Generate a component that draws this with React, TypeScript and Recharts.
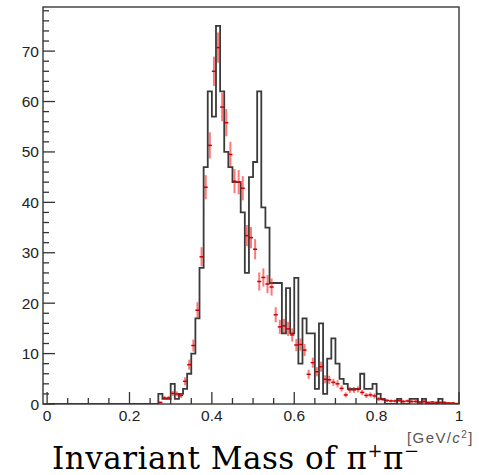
import React from 'react';
import { ComposedChart, Line, Scatter, ErrorBar, XAxis, YAxis, ReferenceArea } from 'recharts';

// histogram bins are 0.01 wide, low edges 0.00 ... 0.99
const BIN_WIDTH = 0.01;
const N_BINS = 100;

// black histogram: counts per bin (bin 0 .. 99)
const dataCounts = [
  0, 0, 0, 0, 0, 0, 0, 0, 0, 0,
  0, 0, 0, 0, 0, 0, 0, 0, 0, 0,
  0, 0, 0, 0, 0, 0, 0, 2, 1, 1,
  4, 1, 2, 3, 6, 10, 17, 27, 47, 62,
  57, 75, 62, 50, 47, 44, 44, 38, 26, 45,
  48, 62, 39, 35, 24, 24, 24, 14, 23, 14,
  25, 8, 17, 14, 14, 3, 16, 2, 9, 13,
  8, 5, 4, 3, 3, 3, 6, 3, 3, 4,
  2, 1, 0, 0, 0, 1, 0, 0, 1, 1,
  0, 1, 0, 0, 0, 1, 0, 0, 0, 0,
];

// red points (scaled MC) start at bin 27
const MC_FIRST_BIN = 27;
const mcValues = [
  0.3, 1.2, 1.2, 2.1, 2.0, 1.7, 4.5, 7.8, 11.6, 18.6,
  29.2, 43.0, 51.3, 66.0, 70.7, 58.9, 55.8, 49.5, 44.2, 44.0,
  42.8, 33.4, 33.0, 30.7, 24.3, 25.1, 23.8, 23.2, 17.7, 15.3,
  15.5, 14.9, 13.7, 11.7, 11.8, 10.7, 5.9, 8.2, 6.4, 7.4,
  4.9, 4.8, 4.3, 4.0, 3.1, 1.8, 2.8, 2.8, 2.9, 2.3,
  1.7, 1.8, 1.6, 1.0, 0.9, 0.7, 0.6, 0.6, 0.7, 0.5,
  0.6, 0.5, 0.5, 0.4, 0.5, 0.3, 0.4, 0.3, 0.3, 0.3,
  0.2, 0.2, 0.1,
];
const mcErrors = [
  0.2, 0.4, 0.4, 0.5, 0.5, 0.5, 0.8, 1.0, 1.2, 1.6,
  1.9, 2.4, 2.6, 2.9, 3.0, 2.8, 2.7, 2.5, 2.4, 2.4,
  2.4, 2.1, 2.1, 2.0, 1.8, 1.8, 1.8, 1.7, 1.5, 1.4,
  1.4, 1.4, 1.3, 1.2, 1.2, 1.2, 0.9, 1.0, 0.9, 1.0,
  0.8, 0.8, 0.7, 0.7, 0.6, 0.5, 0.6, 0.6, 0.6, 0.5,
  0.5, 0.5, 0.5, 0.4, 0.3, 0.3, 0.3, 0.3, 0.3, 0.3,
  0.3, 0.3, 0.3, 0.2, 0.3, 0.2, 0.2, 0.2, 0.2, 0.2,
  0.2, 0.2, 0.1,
];

const xTicks = [0, 0.05, 0.1, 0.15, 0.2, 0.25, 0.3, 0.35, 0.4, 0.45, 0.5, 0.55, 0.6, 0.65, 0.7, 0.75, 0.8, 0.85, 0.9, 0.95, 1];
const xMajorLabels: Record<string, string> = { '0': '0', '0.2': '0.2', '0.4': '0.4', '0.6': '0.6', '0.8': '0.8', '1': '1' };
const yTicks = [
  0, 2, 4, 6, 8, 10, 12, 14, 16, 18, 20, 22, 24, 26, 28, 30, 32, 34, 36, 38,
  40, 42, 44, 46, 48, 50, 52, 54, 56, 58, 60, 62, 64, 66, 68, 70, 72, 74, 76, 78,
];

const X_MIN = -0.01;
const X_MAX = 1;
const Y_MAX = 78.75;

// step outline: one point per bin low edge, plus closing point at the upper edge
const histData = dataCounts.map((c, i) => ({ x: +(i * BIN_WIDTH).toFixed(2), y: c }));
histData.push({ x: +(N_BINS * BIN_WIDTH).toFixed(2), y: 0 });

const mcData = mcValues.map((v, i) => ({
  x: +((MC_FIRST_BIN + i + 0.5) * BIN_WIDTH).toFixed(3),
  y: v,
  ey: mcErrors[i],
  ex: BIN_WIDTH / 2,
}));

const AXIS_COLOR = '#333';
const LABEL_FONT = '"Liberation Sans", Arial, Helvetica, sans-serif';

const YTick = (props: any) => {
  const { x, y, payload } = props;
  const v = payload.value;
  const major = v % 10 === 0;
  return (
    <g>
      <line x1={x} x2={x + (major ? 12 : 6)} y1={y} y2={y} stroke={AXIS_COLOR} strokeWidth={1.3} />
      {major && (
        <text x={x - 4} y={y + 5.5} textAnchor="end" fontSize={15.5} fontFamily={LABEL_FONT} fill="#222">
          {v}
        </text>
      )}
    </g>
  );
};

const XTick = (props: any) => {
  const { x, y, payload } = props;
  const v = payload.value;
  const label = xMajorLabels[String(v)];
  return (
    <g>
      <line x1={x} x2={x} y1={y} y2={y - (label ? 12 : 6)} stroke={AXIS_COLOR} strokeWidth={1.3} />
      {label && (
        <text x={x} y={y + 17} textAnchor="middle" fontSize={15.5} fontFamily={LABEL_FONT} fill="#222">
          {label}
        </text>
      )}
    </g>
  );
};

export default function App() {
  return (
    <div style={{ position: 'absolute', left: 0, top: 0, width: 479, height: 475, background: '#fff', overflow: 'hidden' }}>
      <ComposedChart width={479} height={475} margin={{ top: 7, right: 20, bottom: 41, left: 0 }}>
        <XAxis
          type="number"
          dataKey="x"
          domain={[X_MIN, X_MAX]}
          allowDataOverflow
          ticks={xTicks}
          interval={0}
          height={30}
          tickSize={0}
          tickMargin={0}
          axisLine={false}
          tickLine={false}
          tick={<XTick />}
        />
        <YAxis
          type="number"
          domain={[0, Y_MAX]}
          allowDataOverflow
          ticks={yTicks}
          interval={0}
          width={43}
          tickSize={0}
          tickMargin={0}
          axisLine={false}
          tickLine={false}
          tick={<YTick />}
        />
        <Line
          data={histData}
          dataKey="y"
          type="stepAfter"
          stroke="#3a3a3a"
          strokeWidth={1.8}
          dot={false}
          isAnimationActive={false}
        />
        <Scatter data={mcData} dataKey="y" shape={() => <g />} isAnimationActive={false}>
          <ErrorBar dataKey="ey" direction="y" width={0} stroke="rgba(255,30,30,0.6)" strokeWidth={2} />
          <ErrorBar dataKey="ex" direction="x" width={0} stroke="#c80000" strokeWidth={1.5} />
        </Scatter>
        <ReferenceArea x1={X_MIN} x2={X_MAX} y1={0} y2={Y_MAX} fill="none" stroke="#444" strokeWidth={1.5} ifOverflow="visible" />
      </ComposedChart>
      <svg width={479} height={475} style={{ position: 'absolute', left: 0, top: 0, pointerEvents: 'none' }}>
        <text x={407} y={443} fontSize={15} letterSpacing={1.4} fontFamily={LABEL_FONT} fill="#555">
          [GeV/<tspan fontStyle="italic">c</tspan>
          <tspan dy={-5} fontSize={10}>2</tspan>
          <tspan dy={5}>]</tspan>
        </text>
        <text x={52} y={469} fontSize={31} letterSpacing={0.5} fontFamily='"DejaVu Serif", serif' fill="#000">
          Invariant Mass of π<tspan dy={-12} fontSize={18}>+</tspan>
          <tspan dy={12}>π</tspan>
          <tspan dy={-12} fontSize={18}>−</tspan>
        </text>
      </svg>
    </div>
  );
}
